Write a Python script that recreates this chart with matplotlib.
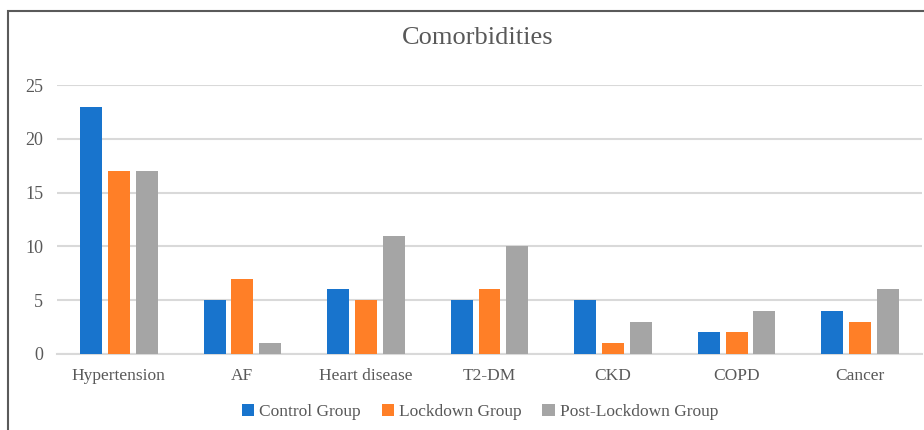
import numpy as np
import matplotlib
matplotlib.use("Agg")
import matplotlib.pyplot as plt
from matplotlib.patches import Rectangle

categories = ["Hypertension", "AF", "Heart disease", "T2-DM", "CKD", "COPD", "Cancer"]
series_names = ["Control Group", "Lockdown Group", "Post-Lockdown Group"]
control = [23, 5, 6, 5, 5, 2, 4]
lockdown = [17, 7, 5, 6, 1, 2, 3]
post_lockdown = [17, 1, 11, 10, 3, 4, 6]
y_ticks = [0, 5, 10, 15, 20, 25]

colors = ["#1874CD", "#FF7F27", "#A5A5A5"]
text_color = "#595959"

plt.rcParams['font.family'] = ['Liberation Serif', 'DejaVu Serif']

fig = plt.figure(figsize=(9.24, 4.30), dpi=100)
ax = fig.add_axes([57 / 924, 1 - 354 / 430, (922 - 57) / 924, (354 - 85) / 430])

x = np.arange(len(categories))
width = 0.178
offset = 0.225
for i, (vals, name) in enumerate(zip([control, lockdown, post_lockdown], series_names)):
    ax.bar(x + (i - 1) * offset, vals, width, color=colors[i], label=name, zorder=3)

ax.set_xlim(-0.5, len(categories) - 0.5)
ax.set_ylim(0, 25)
ax.set_yticks(y_ticks)
ax.set_xticks(x)
ax.set_xticklabels(categories)
ax.tick_params(axis='both', length=0, labelsize=12.5, colors=text_color)
ax.tick_params(axis='x', pad=10)
ax.tick_params(axis='y', pad=10, labelsize=13)
ax.grid(axis='y', color="#D9D9D9", linewidth=1.5, zorder=0)
for s in ["top", "right", "left"]:
    ax.spines[s].set_visible(False)
ax.spines["bottom"].set_color("#D9D9D9")
ax.spines["bottom"].set_linewidth(1.5)

fig.text(478 / 924, 1 - 38 / 430, "Comorbidities", ha='center', va='center',
         fontsize=19, color=text_color)

leg = fig.legend(loc='center', bbox_to_anchor=(480 / 924, 1 - 412 / 430), ncol=3,
                 frameon=False, fontsize=12.5, handlelength=0.7, handleheight=0.7,
                 handletextpad=0.3, columnspacing=1.2)
for t in leg.get_texts():
    t.set_color(text_color)

# outer chart border (only top and left visible in the crop)
fig.patches.append(Rectangle((8 / 924, -0.2), 1.2, 1 - 11 / 430 + 0.2,
                             transform=fig.transFigure, fill=False,
                             edgecolor="#5A5A5A", linewidth=1.5))

fig.savefig("out.png", dpi=100)
